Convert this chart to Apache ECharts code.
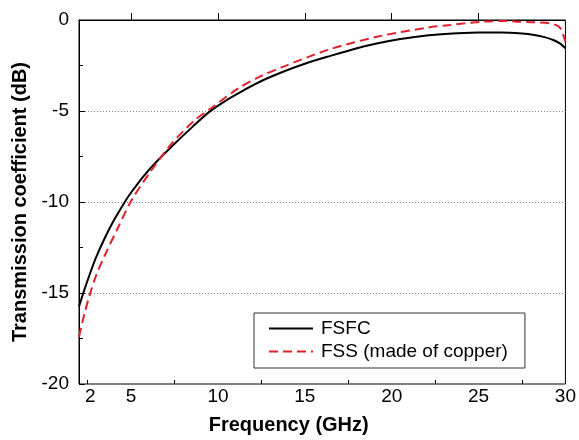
<!DOCTYPE html>
<html>
<head>
<meta charset="utf-8">
<script src="https://cdn.jsdelivr.net/npm/echarts@6/dist/echarts.min.js"></script>
<style>html,body{margin:0;padding:0;background:#fff;}#c{width:579px;height:440px;}</style>
</head>
<body>
<div id="c"></div>
<script>
// FSFC (black solid)
var fsfcFreq = [2.0, 2.3, 2.7, 3.0, 3.5, 4.0, 4.6, 5.0, 5.7, 6.5, 7.5, 8.5, 9.5, 10.5, 11.5, 12.5, 14.0, 15.0, 16.3, 18.0, 19.2, 20.5, 22.0, 23.5, 25.0, 26.3, 27.5, 28.2, 28.8, 29.3, 29.7, 30.0];
var fsfcDb   = [-15.75, -14.85, -13.75, -13.0, -11.95, -11.02, -10.05, -9.48, -8.6, -7.75, -6.8, -5.9, -5.05, -4.4, -3.85, -3.35, -2.75, -2.4, -2.02, -1.55, -1.28, -1.05, -0.85, -0.74, -0.69, -0.68, -0.74, -0.82, -0.94, -1.1, -1.3, -1.55];
// FSS made of copper (red dashed)
var fssFreq = [2.0, 2.3, 2.6, 3.0, 3.5, 4.2, 5.0, 6.1, 7.33, 8.67, 9.6, 11.2, 12.5, 13.77, 16.34, 19.2, 22.06, 23.4, 25.3, 26.5, 27.2, 28.2, 29.1, 29.5, 29.7, 29.85, 30.0];
var fssDb   = [-17.4, -16.2, -15.15, -14.0, -12.9, -11.5, -9.95, -8.35, -6.8, -5.5, -4.85, -3.74, -3.07, -2.56, -1.64, -0.91, -0.42, -0.27, -0.09, -0.05, -0.09, -0.12, -0.18, -0.3, -0.45, -0.75, -1.2];
var seriesNames = ['FSFC', 'FSS (made of copper)'];
var xTickLabels = [2, 5, 10, 15, 20, 25, 30];
var yTickLabels = [0, -5, -10, -15, -20];

function pairs(xs, ys) { return xs.map(function (x, i) { return [x, ys[i]]; }); }

var FONT = '"Liberation Sans", Arial, sans-serif';
// label "2" sits slightly right of the axis start in the reference
var xLabelPos = xTickLabels.map(function (v) { return v === 2 ? 2.65 : v; });

var chart = echarts.init(document.getElementById('c'));
chart.setOption({
  animation: false,
  grid: { left: 79, right: 10, top: 20, bottom: 55, show: true, borderColor: '#000', borderWidth: 1, backgroundColor: 'transparent' },
  legend: {
    orient: 'vertical', left: 254, top: 313,
    data: seriesNames.map(function (n) { return { name: n, itemStyle: { opacity: 0 } }; }),
    itemWidth: 44, itemHeight: 14, itemGap: 4,
    padding: [6, 17, 7, 14],
    borderColor: '#333', borderWidth: 1, borderRadius: 0,
    textStyle: { fontFamily: FONT, fontSize: 19, color: '#000', padding: [0, 0, 0, 3] }
  },
  xAxis: [{
    type: 'value', min: 2, max: 30,
    name: 'Frequency (GHz)', nameLocation: 'middle', nameGap: 31,
    nameTextStyle: { fontFamily: FONT, fontSize: 20, fontWeight: 'bold', color: '#000', padding: [0, 67, 0, 0] },
    axisLine: { show: true, lineStyle: { color: '#000', width: 1 } },
    axisTick: { show: true, inside: true, length: 7, customValues: [5, 10, 15, 20, 25], lineStyle: { color: '#000' } },
    axisLabel: { show: true, margin: 3, customValues: xLabelPos, fontFamily: FONT, fontSize: 19, color: '#000',
      formatter: function (v) { return v < 3 ? '2' : String(v); } },
    splitLine: { show: false }
  }, {
    type: 'value', min: 2, max: 30, position: 'bottom',
    axisLine: { show: false },
    axisTick: { show: true, inside: true, length: 4, customValues: [2.5, 7.5, 12.5, 17.5, 22.5, 27.5], lineStyle: { color: '#000' } },
    axisLabel: { show: false },
    splitLine: { show: false }
  }],
  yAxis: {
    type: 'value', min: -20, max: 0, interval: 5,
    name: 'Transmission coefficient (dB)', nameLocation: 'middle', nameGap: 49,
    nameTextStyle: { fontFamily: FONT, fontSize: 20, fontWeight: 'bold', color: '#000' },
    axisLine: { show: true, lineStyle: { color: '#000', width: 1 } },
    axisTick: { show: true, inside: true, length: 6, lineStyle: { color: '#000' } },
    minorTick: { show: true, splitNumber: 2, length: 4, lineStyle: { color: '#000' } },
    axisLabel: { margin: 10, fontFamily: FONT, fontSize: 19, color: '#000',
      customValues: yTickLabels, formatter: function (v) { return String(v); } },
    splitLine: { show: true, showMinLine: false, showMaxLine: false, lineStyle: { color: '#7a7fa8', type: [1, 2], width: 1 } }
  },
  series: [{
    name: seriesNames[0], type: 'line', data: pairs(fsfcFreq, fsfcDb),
    symbol: 'none', smooth: 0.3, clip: true,
    lineStyle: { color: '#000', width: 2 }, itemStyle: { color: '#000' }, z: 3
  }, {
    name: seriesNames[1], type: 'line', data: pairs(fssFreq, fssDb),
    symbol: 'none', smooth: 0.3, clip: true,
    lineStyle: { color: '#e0202a', width: 2, type: [9, 5] }, itemStyle: { color: '#e0202a' }, z: 4
  }]
});
</script>
</body>
</html>
